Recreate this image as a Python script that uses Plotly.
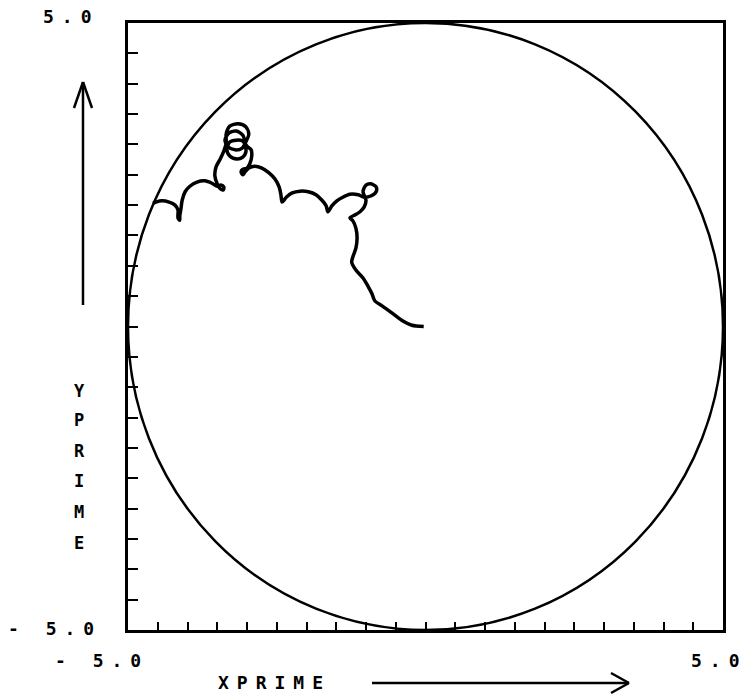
import plotly.graph_objects as go

# Trajectory (data units, XPRIME / YPRIME)
traj_x = [-0.03, -0.23, -0.38, -0.56, -0.73, -0.85, -0.90, -0.97, -1.05, -1.17, -1.24, -1.22, -1.17, -1.15,
          -1.17, -1.22, -1.27, -1.18, -1.10, -1.03, -1.00, -1.05, -1.00, -0.92, -0.83, -0.83, -0.92, -1.03,
          -1.13, -1.27, -1.39, -1.49, -1.57, -1.64, -1.67, -1.74, -1.84, -1.97, -2.11, -2.24, -2.34, -2.41,
          -2.43, -2.46, -2.53, -2.63, -2.75, -2.87, -2.97, -3.03, -3.07, -3.10, -3.07, -3.00, -2.95, -2.92,
          -2.93,
          -3.00, -3.08, -3.18, -3.29, -3.34, -3.29, -3.17, -3.07, -3.02,
          -3.03, -3.07, -3.18, -3.30, -3.37, -3.32, -3.20, -3.08, -3.02,
          -2.97, -3.02, -3.15, -3.29, -3.35,
          -3.35, -3.39, -3.45, -3.52, -3.54, -3.50,
          -3.45, -3.40, -3.39, -3.44, -3.50,
          -3.59, -3.71, -3.84, -3.96, -4.04, -4.09, -4.11, -4.13,
          -4.13, -4.16, -4.16,
          -4.21, -4.31, -4.43, -4.53, -4.58]
traj_y = [0.00, 0.02, 0.09, 0.22, 0.34, 0.42, 0.54, 0.67, 0.80, 0.93, 1.06, 1.15, 1.29, 1.46,
          1.62, 1.74, 1.79, 1.84, 1.89, 1.97, 2.08, 2.22, 2.33, 2.35, 2.30, 2.22, 2.15, 2.13,
          2.17, 2.18, 2.13, 2.07, 1.99, 1.89, 1.99, 2.08, 2.17, 2.22, 2.23, 2.20, 2.13, 2.05,
          2.17, 2.30, 2.43, 2.53, 2.61, 2.64, 2.61, 2.55, 2.50, 2.55, 2.59, 2.61, 2.69, 2.81,
          2.91,
          2.97, 3.06, 3.07, 3.04, 2.92, 2.81, 2.76, 2.79, 2.87,
          3.02, 3.15, 3.22, 3.19, 3.07, 2.96, 2.91, 2.94, 3.04,
          3.17, 3.29, 3.34, 3.30, 3.17,
          3.02, 2.89, 2.76, 2.63, 2.48, 2.35,
          2.27, 2.25, 2.30, 2.33, 2.31,
          2.36, 2.40, 2.38, 2.31, 2.22, 2.08, 1.94, 1.82,
          1.75, 1.79, 1.92,
          2.00, 2.05, 2.07, 2.05, 2.03]

axis_min, axis_max = -5.0, 5.0
circle_radius = 5.0
x_title = "XPRIME"
y_title = "YPRIME"
x_tick_labels = ["- 5.0", "5.0"]
y_tick_labels = ["- 5.0", "5.0"]

FONT = "DejaVu Sans Mono"

def spaced(t, ls=8):
    # letter spacing between characters, none after the last one
    if len(t) <= 1 or ls == 0:
        return t
    return '<span style="letter-spacing:%dpx">%s</span>%s' % (ls, t[:-1], t[-1])

fig = go.Figure()
fig.add_trace(go.Scatter(x=traj_x, y=traj_y, mode="lines",
                         line=dict(color="black", width=3.5, shape="spline", smoothing=0.8),
                         hoverinfo="skip", showlegend=False))

fig.add_shape(type="circle", xref="x", yref="y",
              x0=-circle_radius, y0=-circle_radius, x1=circle_radius, y1=circle_radius,
              line=dict(color="black", width=2.5))

axis_common = dict(range=[axis_min, axis_max], showgrid=False, zeroline=False,
                   showline=True, linecolor="black", linewidth=3, mirror=True,
                   ticks="inside", tickcolor="black", tickwidth=2,
                   tick0=axis_min, dtick=0.5, showticklabels=False, fixedrange=True)
fig.update_xaxes(**axis_common, ticklen=8)
fig.update_yaxes(**axis_common, ticklen=10)

def px2paper(px, py):
    return (px - 128) / 595.0, (630 - py) / 607.0

annots = []
def add_text(text, px, py, size=18, ls=8):
    x, y = px2paper(px, py)
    annots.append(dict(text="<b>" + spaced(text, ls) + "</b>", x=x, y=y, xref="paper", yref="paper",
                       showarrow=False, xanchor="center", yanchor="middle",
                       font=dict(family=FONT, size=size, color="black")))

add_text(y_tick_labels[1], 67, 17)
add_text(y_tick_labels[0], 51, 628)
add_text(x_tick_labels[0], 98, 660)
add_text(x_tick_labels[1], 715, 660)
add_text(x_title, 270, 682)
ys = [391, 420, 451, 481, 512, 543]
for ch, yy in zip(y_title, ys):
    add_text(ch, 79, yy, size=17, ls=0)
fig.update_layout(annotations=annots)

def line_shape(p1, p2):
    x0, y0 = px2paper(*p1)
    x1, y1 = px2paper(*p2)
    fig.add_shape(type="line", xref="paper", yref="paper", x0=x0, y0=y0, x1=x1, y1=y1,
                  line=dict(color="black", width=2.5))

# Y arrow
line_shape((83, 305), (83, 82))
line_shape((83, 82), (74, 108))
line_shape((83, 82), (92, 108))
# X arrow
line_shape((372, 683), (629, 683))
line_shape((629, 683), (611, 673))
line_shape((629, 683), (611, 693))

fig.update_layout(width=744, height=696, margin=dict(l=128, r=21, t=23, b=66),
                  paper_bgcolor="white", plot_bgcolor="white", showlegend=False)

fig.write_html("out.html", config={"displayModeBar": False},
               post_script="document.body.style.margin='0px';document.body.style.overflow='hidden';")
